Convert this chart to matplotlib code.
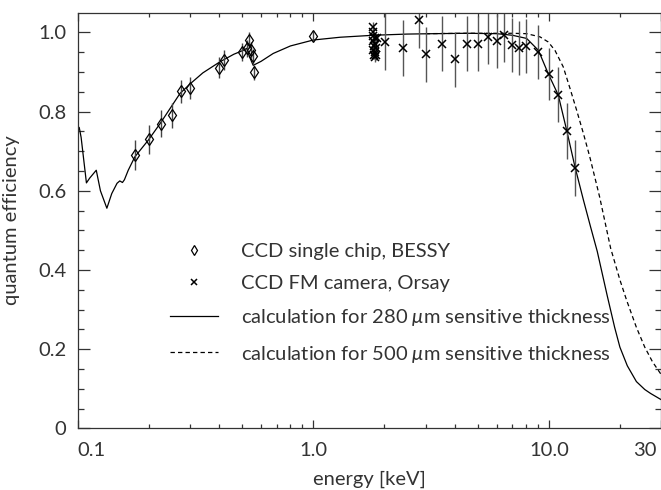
import numpy as np
import matplotlib
matplotlib.use("Agg")
import matplotlib.pyplot as plt
from matplotlib.legend_handler import HandlerLine2D
from matplotlib.ticker import FixedLocator, NullFormatter
import matplotlib.transforms as mtransforms

# ---------------- data ----------------
# calculated QE, 280 um sensitive thickness
calc280_energy = [0.100, 0.1016, 0.1035, 0.109, 0.1125, 0.120, 0.125, 0.1331, 0.1396,
                  0.147, 0.151, 0.155, 0.158, 0.164, 0.175, 0.1995, 0.224, 0.272,
                  0.30, 0.34, 0.402, 0.46, 0.505, 0.522, 0.535, 0.556, 0.60, 0.676,
                  0.80, 1.0, 1.3, 1.8, 2.5, 3.23, 4.5, 6.0, 7.0, 8.04, 9.02, 9.93,
                  10.95, 11.89, 12.89, 14.0, 15.0, 16.03, 17.67, 19.0, 20.0, 21.5,
                  23.5, 25.5, 27.0, 30.0]
calc280_qe = [0.762, 0.760, 0.735, 0.620, 0.632, 0.652, 0.600, 0.556, 0.593,
              0.619, 0.625, 0.621, 0.628, 0.652, 0.686, 0.728, 0.770, 0.846,
              0.870, 0.898, 0.926, 0.945, 0.955, 0.960, 0.940, 0.917, 0.927, 0.947,
              0.966, 0.981, 0.988, 0.993, 0.996, 0.997, 0.998, 0.997, 0.993, 0.985, 0.955, 0.896,
              0.842, 0.753, 0.661, 0.577, 0.510, 0.447, 0.335, 0.255, 0.205, 0.158,
              0.118, 0.098, 0.088, 0.072]

# calculated QE, 500 um sensitive thickness (differs only above a few keV)
calc500_energy = [3.0, 4.5, 6.0, 7.0, 8.04, 9.16, 9.93, 10.6, 11.5, 12.28, 13.1,
                  14.0, 14.9, 16.4, 18.27, 20.0, 21.4, 23.5, 25.5, 27.5, 30.0]
calc500_qe = [0.997, 0.998, 0.998, 0.998, 0.997, 0.989, 0.976, 0.955, 0.913, 0.859, 0.804,
              0.745, 0.686, 0.585, 0.455, 0.375, 0.322, 0.255, 0.205, 0.168, 0.135]

# CCD single chip, BESSY
bessy_energy = [0.1752, 0.2003, 0.2253, 0.2506, 0.2754, 0.3007, 0.399, 0.419, 0.498,
                0.525, 0.533, 0.543, 0.556, 0.562, 1.0]
bessy_qe = [0.690, 0.730, 0.770, 0.791, 0.851, 0.860, 0.911, 0.930, 0.951,
            0.960, 0.981, 0.955, 0.940, 0.900, 0.991]
bessy_err = [0.038, 0.036, 0.034, 0.032, 0.030, 0.028, 0.027, 0.025, 0.023,
             0.021, 0.020, 0.020, 0.019, 0.019, 0.012]

# CCD FM camera, Orsay
orsay_energy = [1.787, 1.79, 1.80, 1.82, 1.80, 1.83, 1.81, 1.84, 1.80, 1.82, 1.81, 1.83, 1.845,
                1.86, 2.01, 2.41, 2.81, 3.01, 3.51, 3.99, 4.47, 4.98, 5.50, 6.0, 6.44,
                6.97, 7.44, 7.99, 8.98, 9.97, 10.92, 11.92, 12.93]
orsay_qe = [1.014, 1.000, 0.990, 0.985, 0.978, 0.972, 0.966, 0.960, 0.955, 0.950, 0.944, 0.938, 0.943,
            0.985, 0.976, 0.960, 1.031, 0.945, 0.972, 0.932, 0.972, 0.972, 0.989, 0.978, 0.993,
            0.968, 0.960, 0.965, 0.951, 0.895, 0.843, 0.751, 0.658]
orsay_err = [0.012, 0.012, 0.012, 0.012, 0.012, 0.012, 0.012, 0.012, 0.012, 0.012, 0.012, 0.012, 0.012,
             0.012, 0.072, 0.071, 0.071, 0.070, 0.070, 0.070, 0.070, 0.070, 0.068, 0.068, 0.068,
             0.068, 0.068, 0.068, 0.068, 0.066, 0.070, 0.070, 0.070]

x_ticks = [0.1, 1.0, 10.0, 30.0]
x_ticklabels = ["0.1", "1.0", "10.0", "30"]
y_ticks = [0, 0.2, 0.4, 0.6, 0.8, 1.0]
y_ticklabels = ["0", "0.2", "0.4", "0.6", "0.8", "1.0"]

labels = ["CCD single chip, BESSY",
          "CCD FM camera, Orsay",
          r"calculation for 280 $\mu$m sensitive thickness",
          r"calculation for 500 $\mu$m sensitive thickness"]

# ---------------- style ----------------
plt.rcParams['font.family'] = ['Lato', 'DejaVu Sans']
plt.rcParams['mathtext.fontset'] = 'custom'
plt.rcParams['mathtext.it'] = 'Lato:italic'
plt.rcParams['mathtext.rm'] = 'Lato'
TXT = '#333333'
FS = 14.5

fig = plt.figure(figsize=(6.61, 4.90), dpi=100)
ax = fig.add_axes([77.6 / 661, 1 - 428.3 / 490, (661.4 - 77.6) / 661, (428.3 - 12.7) / 490])

l280, = ax.plot(calc280_energy, calc280_qe, color='black', lw=0.9)
l500, = ax.plot(calc500_energy, calc500_qe, color='black', lw=0.9, ls=(0, (3.5, 2.5)))

eb1 = ax.errorbar(bessy_energy, bessy_qe, yerr=bessy_err, fmt='d', mfc='none', mec='black',
                  mew=0.9, ms=6.2, ecolor='#444444', elinewidth=1.0, capsize=0)
eb2 = ax.errorbar(orsay_energy, orsay_qe, yerr=orsay_err, fmt='x', color='black',
                  mew=1.1, ms=6, ecolor='#555555', elinewidth=1.0, capsize=0)

ax.set_xscale('log')
ax.set_xlim(0.1, 30)
ax.set_ylim(0, 1.05)

ax.xaxis.set_major_locator(FixedLocator(x_ticks))
ax.set_xticklabels(x_ticklabels)
minor_x = [m * 10.0 ** d for d in (-1, 0, 1) for m in range(2, 10) if m * 10.0 ** d < 30]
ax.xaxis.set_minor_locator(FixedLocator(minor_x))
ax.xaxis.set_minor_formatter(NullFormatter())
ax.yaxis.set_major_locator(FixedLocator(y_ticks))
ax.set_yticklabels(y_ticklabels)
ax.yaxis.set_minor_locator(FixedLocator(np.arange(0, 1.05, 0.05)))

ax.tick_params(axis='both', which='both', direction='in', top=True, right=True,
               colors='#333333', labelcolor=TXT, labelsize=FS, width=0.9)
ax.tick_params(axis='y', which='major', length=8.6, pad=8)
ax.tick_params(axis='y', which='minor', length=4.3)
ax.tick_params(axis='x', which='major', length=5.8, pad=10)
ax.tick_params(axis='x', which='minor', length=3.1)
for sp in ax.spines.values():
    sp.set_color('#333333')
    sp.set_linewidth(0.9)

xl = ax.get_xticklabels()
xl[0].set_horizontalalignment('left')
xl[-1].set_horizontalalignment('right')
xl[-1].set_transform(xl[-1].get_transform() + mtransforms.ScaledTranslation(-5 / 100, 0, fig.dpi_scale_trans))

ax.set_xlabel("energy [keV]", fontsize=FS, color=TXT, labelpad=8)
ax.set_ylabel("quantum efficiency", fontsize=FS, color=TXT, labelpad=13)


class RightMarkerHandler(HandlerLine2D):
    def get_xdata(self, legend, xdescent, ydescent, width, height, fontsize):
        xdata = [-xdescent, -xdescent + width]
        xm = [-xdescent + width - 0.05 * fontsize]
        return xdata, xm


leg = ax.legend([eb1[0], eb2[0], l280, l500], labels,
                loc='upper left', bbox_to_anchor=(170 / 661, 1 - 243 / 490),
                bbox_transform=fig.transFigure, frameon=False, fontsize=FS,
                handlelength=2.39, handletextpad=1.13, labelspacing=0.75,
                borderpad=0, borderaxespad=0, markerscale=0.8,
                handler_map={eb1[0]: RightMarkerHandler(), eb2[0]: RightMarkerHandler()})
for t in leg.get_texts():
    t.set_color(TXT)

fig.savefig("out.png", dpi=100)
